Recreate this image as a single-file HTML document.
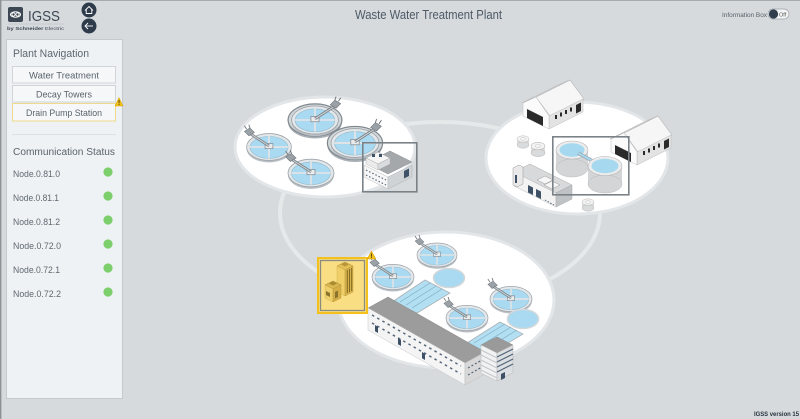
<!DOCTYPE html>
<html><head><meta charset="utf-8"><style>
html,body{margin:0;padding:0;background:#d6dadd;width:800px;height:419px;overflow:hidden}
svg{display:block}
text{font-family:"Liberation Sans",sans-serif}
</style></head><body>
<svg width="800" height="419" viewBox="0 0 800 419" xmlns="http://www.w3.org/2000/svg">
<defs>
 <g id="clar">
   <ellipse cx="0" cy="1.8" rx="20" ry="12" fill="#b9bfc4"/>
   <ellipse cx="0" cy="0" rx="20" ry="12" fill="#e4e7e9" stroke="#9da4aa" stroke-width="0.7"/>
   <ellipse cx="0" cy="0.3" rx="17" ry="9.8" fill="#a9daf1" stroke="#8fb8cc" stroke-width="0.5"/>
   <line x1="-17" y1="0" x2="17" y2="0" stroke="#dfe3e6" stroke-width="1.6"/>
   <line x1="0" y1="-9.8" x2="0" y2="10" stroke="#dfe3e6" stroke-width="1.6"/>
   <rect x="-3.5" y="-3" width="7" height="4.5" fill="#e9ebec" stroke="#7d858b" stroke-width="0.6"/>
   <line x1="0" y1="-1" x2="-17" y2="-12" stroke="#7c8388" stroke-width="2.4"/>
   <line x1="0" y1="-1" x2="-17" y2="-12" stroke="#d5d9dc" stroke-width="0.8"/>
   <polygon points="-22,-14 -17,-17 -13,-13 -18,-10" fill="#9ba2a7" stroke="#6c7378" stroke-width="0.5"/>
   <line x1="-20" y1="-16" x2="-22" y2="-19" stroke="#6c7378" stroke-width="0.8"/>
   <line x1="-17" y1="-17" x2="-18" y2="-20" stroke="#6c7378" stroke-width="0.8"/>
 </g>
 <g id="clar2">
   <ellipse cx="0" cy="2" rx="23" ry="13.8" fill="#a9b0b5"/>
   <ellipse cx="0" cy="0" rx="23" ry="13.8" fill="#d3d8db" stroke="#7f878d" stroke-width="1"/>
   <use href="#clar"/>
 </g>
 <g id="barn">
   <polygon points="15,16 49,-1 63,18 29,35" fill="#f6f6f6" stroke="#b5b5b5" stroke-width="0.6"/>
   <polygon points="1,22 15,16 49,-1 35,5" fill="#e6e6e6" stroke="#b5b5b5" stroke-width="0.6"/>
   <polygon points="28,35 62,18 62,31 28,48" fill="#e3e3e3" stroke="#bdbdbd" stroke-width="0.5"/>
   <polygon points="2,22 15,16 28,35 28,48 2,35" fill="#fbfbfb" stroke="#bdbdbd" stroke-width="0.5"/>
   <polygon points="6,28 22,36 22,45 6,37" fill="#2a2a2a"/>
   <rect x="34" y="34" width="2" height="4" fill="#2a2a2a"/>
   <rect x="39" y="31.5" width="2" height="4" fill="#2a2a2a"/>
   <rect x="44" y="29" width="2" height="4" fill="#2a2a2a"/>
   <rect x="49" y="26.5" width="2" height="4" fill="#2a2a2a"/>
   <polygon points="55,24 60,21.5 60,30 55,32.5" fill="#2a2a2a"/>
 </g>
 <g id="tank">
   <rect x="-6" y="0" width="12" height="6" fill="#d9dbdc"/>
   <ellipse cx="0" cy="6" rx="6" ry="3.2" fill="#d9dbdc" stroke="#bdbdbd" stroke-width="0.5"/>
   <ellipse cx="0" cy="0" rx="6" ry="3.2" fill="#f3f3f3" stroke="#b9b9b9" stroke-width="0.5"/>
   <ellipse cx="0" cy="0" rx="2.5" ry="1.3" fill="none" stroke="#c5c5c5" stroke-width="0.5"/>
 </g>
</defs>

<!-- page borders -->
<rect x="0" y="0" width="800" height="419" fill="#d6dadd"/>
<line x1="0" y1="0.5" x2="800" y2="0.5" stroke="#a6abb0" stroke-width="1"/>
<line x1="0.7" y1="0" x2="0.7" y2="419" stroke="#8c9196" stroke-width="1.4"/>

<!-- logo -->
<rect x="8" y="7" width="15" height="15" rx="2" fill="#3c4753"/>
<ellipse cx="15.5" cy="14.5" rx="5" ry="2.8" fill="none" stroke="#fff" stroke-width="1"/>
<circle cx="13.5" cy="14.5" r="1.6" fill="none" stroke="#fff" stroke-width="0.8"/>
<circle cx="17.5" cy="14.5" r="1.6" fill="none" stroke="#fff" stroke-width="0.8"/>
<text x="28" y="21" font-size="15" fill="#3c4652" textLength="32" lengthAdjust="spacingAndGlyphs">IGSS</text>
<line x1="8" y1="24" x2="65" y2="24" stroke="#b8bcc0" stroke-width="0.6"/>
<text x="7" y="30" font-size="4.8" fill="#3c4652" textLength="57" lengthAdjust="spacingAndGlyphs"><tspan font-weight="bold">by Schneider</tspan> Electric</text>

<!-- home/back -->
<circle cx="89" cy="10" r="7.5" fill="#2e3b4b"/>
<polyline points="85,10.5 89,6.5 93,10.5" fill="none" stroke="#fff" stroke-width="0.9"/>
<polyline points="86.2,9.5 86.2,13.5 91.8,13.5 91.8,9.5" fill="none" stroke="#fff" stroke-width="0.9"/>
<circle cx="89" cy="26" r="7.5" fill="#2e3b4b"/>
<line x1="85" y1="26" x2="93" y2="26" stroke="#fff" stroke-width="0.9"/>
<polyline points="88,23 85,26 88,29" fill="none" stroke="#fff" stroke-width="0.9"/>

<!-- title -->
<text x="355" y="19" font-size="12.5" fill="#4d5965" textLength="147" lengthAdjust="spacingAndGlyphs">Waste Water Treatment Plant</text>

<!-- info toggle -->
<text x="722" y="17" font-size="6.5" fill="#56606a" textLength="45" lengthAdjust="spacingAndGlyphs">Information Box</text>
<rect x="768" y="9" width="21" height="10" rx="5" fill="#f2f4f5" stroke="#9aa1a7" stroke-width="0.7"/>
<circle cx="773.5" cy="14" r="4.6" fill="#2f3d4d"/>
<text x="779" y="16.3" font-size="5.5" fill="#555">Off</text>

<!-- version -->
<text x="754" y="416" font-size="6.3" font-weight="bold" fill="#27323d" textLength="45" lengthAdjust="spacingAndGlyphs">IGSS version 15</text>

<!-- sidebar -->
<rect x="6.5" y="39.5" width="116" height="359" fill="#eff2f5" stroke="#c5cacf" stroke-width="1"/>
<text x="13" y="57" font-size="11" fill="#5d6770" textLength="76" lengthAdjust="spacingAndGlyphs">Plant Navigation</text>
<rect x="12.5" y="66.5" width="103" height="16.5" fill="#f5f7f9" stroke="#d1d5d9" stroke-width="1"/>
<text x="64" y="78.5" font-size="9.5" fill="#5a636b" text-anchor="middle" textLength="70" lengthAdjust="spacingAndGlyphs">Water Treatment</text>
<rect x="12.5" y="85.5" width="103" height="16.5" fill="#f5f7f9" stroke="#d1d5d9" stroke-width="1"/>
<text x="64" y="97.5" font-size="9.5" fill="#5a636b" text-anchor="middle" textLength="56" lengthAdjust="spacingAndGlyphs">Decay Towers</text>
<rect x="12.5" y="103.5" width="103" height="17.5" fill="#f5f7f9" stroke="#efd98a" stroke-width="1"/>
<text x="64" y="116" font-size="9.5" fill="#5a636b" text-anchor="middle" textLength="76" lengthAdjust="spacingAndGlyphs">Drain Pump Station</text>
<polygon points="115,106 119,97.5 123,106" fill="#f2c01e" stroke="#d6a000" stroke-width="0.5"/>
<rect x="118.6" y="100" width="0.9" height="3.3" fill="#4a3a00"/>
<rect x="118.6" y="104" width="0.9" height="0.9" fill="#4a3a00"/>
<line x1="12" y1="134.5" x2="116" y2="134.5" stroke="#dde1e4" stroke-width="1"/>
<text x="13" y="155" font-size="10" fill="#5a636b" textLength="102" lengthAdjust="spacingAndGlyphs">Communication Status</text>
<g font-size="9" fill="#5f6870">
<text x="13" y="177" textLength="47" lengthAdjust="spacingAndGlyphs">Node.0.81.0</text>
<text x="13" y="201" textLength="46" lengthAdjust="spacingAndGlyphs">Node.0.81.1</text>
<text x="13" y="225" textLength="47" lengthAdjust="spacingAndGlyphs">Node.0.81.2</text>
<text x="13" y="249" textLength="48" lengthAdjust="spacingAndGlyphs">Node.0.72.0</text>
<text x="13" y="273" textLength="47" lengthAdjust="spacingAndGlyphs">Node.0.72.1</text>
<text x="13" y="297" textLength="48" lengthAdjust="spacingAndGlyphs">Node.0.72.2</text>
</g>
<g fill="#7dcf6e">
<circle cx="108" cy="172" r="4.6"/>
<circle cx="108" cy="196" r="4.6"/>
<circle cx="108" cy="220" r="4.6"/>
<circle cx="108" cy="244" r="4.6"/>
<circle cx="108" cy="268" r="4.6"/>
<circle cx="108" cy="292" r="4.6"/>
</g>

<!-- ring -->
<ellipse cx="440" cy="213" rx="160" ry="91" fill="none" stroke="#e6e9ea" stroke-width="4"/>

<!-- ellipses -->
<ellipse cx="325" cy="147" rx="90" ry="50" fill="#fff" stroke="#e3e6e8" stroke-width="3"/>
<ellipse cx="577" cy="158" rx="91" ry="56" fill="#fff" stroke="#e3e6e8" stroke-width="3"/>
<ellipse cx="446" cy="300" rx="108" ry="68" fill="#fff" stroke="#e3e6e8" stroke-width="3"/>

<!-- top-left plant -->
<use href="#clar2" transform="translate(315,120) scale(-1.17,1.17)"/>
<use href="#clar" transform="translate(269,147) scale(1.12)"/>
<use href="#clar2" transform="translate(355,143) scale(-1.2,1.2)"/>
<use href="#clar" transform="translate(311,173) scale(1.15)"/>
<!-- building in frame -->
<polygon points="366,163 390,151 412,162 388,174" fill="#a5a8ab" stroke="#8d9194" stroke-width="0.5"/>
<polygon points="364,165 388,177 388,189 364,177" fill="#f7f7f7" stroke="#bbb" stroke-width="0.5"/>
<polygon points="388,177 412,165 412,177 388,189" fill="#d0d3d6" stroke="#b0b3b6" stroke-width="0.5"/>
<polygon points="366,158 378,152 390,158 378,164" fill="#f5f5f5" stroke="#999" stroke-width="0.5"/>
<polygon points="366,158 378,164 378,170 366,164" fill="#ececec" stroke="#aaa" stroke-width="0.4"/>
<polygon points="378,164 390,158 390,164 378,170" fill="#d9dcde" stroke="#aaa" stroke-width="0.4"/>
<rect x="372" y="154" width="3" height="3" fill="#3f5168"/>
<rect x="379" y="154" width="3" height="3" fill="#3f5168"/>
<line x1="366" y1="170" x2="386" y2="180" stroke="#5b6b7b" stroke-width="1.2" stroke-dasharray="1.5 2"/>
<line x1="366" y1="175" x2="386" y2="185" stroke="#5b6b7b" stroke-width="1.2" stroke-dasharray="1.5 2"/>
<polygon points="404,171 409,168.5 409,176 404,178.5" fill="#3f5168"/>
<rect x="362.8" y="142.8" width="54" height="49" fill="none" stroke="#7a8288" stroke-width="1.6"/>

<!-- top-right plant -->
<use href="#barn" transform="translate(521,81)"/>
<use href="#barn" transform="translate(609,117)"/>
<use href="#tank" transform="translate(523,139)"/>
<use href="#tank" transform="translate(538,146) scale(1.15)"/>
<use href="#tank" transform="translate(588,202)"/>
<!-- big tanks -->
<rect x="556" y="150" width="32" height="18" fill="#d3d5d7"/>
<ellipse cx="572" cy="168" rx="16" ry="9" fill="#d3d5d7" stroke="#bbb" stroke-width="0.5"/>
<ellipse cx="572" cy="150" rx="16" ry="9" fill="#ececec" stroke="#b5b5b5" stroke-width="0.6"/>
<ellipse cx="572" cy="150" rx="12.5" ry="6.8" fill="#a6d9f0"/>
<line x1="578" y1="153" x2="600" y2="165" stroke="#9aa2a8" stroke-width="3.5"/>
<line x1="578" y1="153" x2="600" y2="165" stroke="#a6d9f0" stroke-width="2"/>
<rect x="588" y="166" width="34" height="18" fill="#d3d5d7"/>
<ellipse cx="605" cy="184" rx="17" ry="9" fill="#d3d5d7" stroke="#bbb" stroke-width="0.5"/>
<ellipse cx="605" cy="166" rx="17" ry="9.5" fill="#ececec" stroke="#b5b5b5" stroke-width="0.6"/>
<ellipse cx="605" cy="166" rx="13.5" ry="7.2" fill="#a6d9f0"/>
<!-- machinery building -->
<polygon points="514,172 530,164 572,185 556,193" fill="#d8d9da" stroke="#aaa" stroke-width="0.5"/>
<polygon points="514,172 556,193 556,207 514,186" fill="#f3f3f3" stroke="#bbb" stroke-width="0.5"/>
<polygon points="556,193 572,185 572,199 556,207" fill="#bfc3c6" stroke="#aaa" stroke-width="0.5"/>
<polygon points="513,168 519,165 523,167 523,184 517,187 513,185" fill="#e9e9e9" stroke="#999" stroke-width="0.5"/>
<rect x="515" y="175" width="2" height="8" fill="#3e5066"/>
<polygon points="537,180 545,176 553,180 545,184" fill="#f6f6f6" stroke="#999" stroke-width="0.5"/>
<polygon points="544,185 552,181 560,185 552,189" fill="#f6f6f6" stroke="#999" stroke-width="0.5"/>
<polygon points="528,185 533,187.5 533,195 528,192.5" fill="#3e5066"/>
<polygon points="536,189 541,191.5 541,199 536,196.5" fill="#3e5066"/>
<line x1="545" y1="200" x2="554" y2="205" stroke="#5b6b7b" stroke-width="1" stroke-dasharray="1.5 1.5"/>
<rect x="552.8" y="136.8" width="76" height="58" fill="none" stroke="#7a8288" stroke-width="1.6"/>

<!-- bottom plant -->
<use href="#clar" transform="translate(437,255)"/>
<use href="#clar" transform="translate(393,277) scale(1.05)"/>
<ellipse cx="449" cy="278" rx="15.5" ry="9.5" fill="#a9daf1" stroke="#d3d7da" stroke-width="1.5"/>
<use href="#clar" transform="translate(511,299) scale(1.05)"/>
<use href="#clar" transform="translate(467,318) scale(1.05)"/>
<ellipse cx="523" cy="319" rx="15.5" ry="9.5" fill="#a9daf1" stroke="#d3d7da" stroke-width="1.5"/>
<!-- channels -->
<polygon points="392,302 425,280 450,293 417,313" fill="#b3dff3" stroke="#aab1b6" stroke-width="0.8"/>
<line x1="400" y1="302" x2="430" y2="283" stroke="#7fa9c0" stroke-width="0.6"/>
<line x1="406" y1="305" x2="436" y2="286" stroke="#7fa9c0" stroke-width="0.6"/>
<line x1="412" y1="308" x2="442" y2="289" stroke="#7fa9c0" stroke-width="0.6"/>
<polygon points="467,343 500,322 523,334 490,354" fill="#b3dff3" stroke="#aab1b6" stroke-width="0.8"/>
<line x1="474" y1="343" x2="505" y2="324" stroke="#7fa9c0" stroke-width="0.6"/>
<line x1="480" y1="346" x2="511" y2="327" stroke="#7fa9c0" stroke-width="0.6"/>
<line x1="486" y1="349" x2="517" y2="330" stroke="#7fa9c0" stroke-width="0.6"/>
<!-- long building -->
<polygon points="368,308 388,297 485,352 465,363" fill="#9c9c9c" stroke="#8a8a8a" stroke-width="0.5"/>
<polygon points="368,308 465,363 465,385 368,330" fill="#f4f4f4" stroke="#c6c6c6" stroke-width="0.5"/>
<polygon points="465,363 485,352 485,374 465,385" fill="#d8d8d8" stroke="#bcbcbc" stroke-width="0.5"/>
<line x1="372" y1="315" x2="461" y2="366" stroke="#56687a" stroke-width="1.5" stroke-dasharray="2.5 3.5"/>
<line x1="372" y1="323" x2="461" y2="374" stroke="#56687a" stroke-width="1.5" stroke-dasharray="2.5 3.5"/>
<polygon points="375,325 378,326.7 378,333 375,331.3" fill="#3e5066"/>
<polygon points="398,338 401,339.7 401,346 398,344.3" fill="#3e5066"/>
<polygon points="422,352 425,353.7 425,360 422,358.3" fill="#3e5066"/>
<line x1="468" y1="368" x2="482" y2="360" stroke="#56687a" stroke-width="1.2" stroke-dasharray="2 2"/>
<line x1="468" y1="375" x2="482" y2="367" stroke="#56687a" stroke-width="1.2" stroke-dasharray="2 2"/>
<!-- tower -->
<polygon points="481,345 497,337 513,345 497,353" fill="#9a9a9a" stroke="#888" stroke-width="0.5"/>
<polygon points="481,345 497,353 497,381 481,373" fill="#f2f2f2" stroke="#bbb" stroke-width="0.5"/>
<polygon points="497,353 513,345 513,373 497,381" fill="#dcdfe2" stroke="#b5b5b5" stroke-width="0.5"/>
<g stroke="#c3c8cd" stroke-width="1">
<line x1="481" y1="350" x2="497" y2="358"/><line x1="481" y1="355" x2="497" y2="363"/><line x1="481" y1="360" x2="497" y2="368"/><line x1="481" y1="365" x2="497" y2="373"/><line x1="481" y1="370" x2="497" y2="378"/>
</g>
<g stroke="#4f6276" stroke-width="1.2">
<line x1="497" y1="357" x2="513" y2="349"/><line x1="497" y1="362" x2="513" y2="354"/><line x1="497" y1="367" x2="513" y2="359"/><line x1="497" y1="372" x2="513" y2="364"/>
</g>
<polygon points="501,374 505,372 505,378 501,380" fill="#3e5066"/>

<!-- yellow selected box -->
<rect x="318" y="258" width="49" height="55" fill="#f9de84" stroke="#f4c01c" stroke-width="2"/>
<rect x="320.5" y="260.5" width="44" height="50" fill="none" stroke="#8a8a80" stroke-width="1.3"/>
<polygon points="337,266 345,262 353,266 345,270" fill="#e2c056" stroke="#a88a30" stroke-width="0.5"/>
<polygon points="337,266 345,270 345,296 337,292" fill="#f0cf68" stroke="#c9a845" stroke-width="0.4"/>
<polygon points="345,270 353,266 353,292 345,296" fill="#d7b24a" stroke="#b8953a" stroke-width="0.4"/>
<g stroke="#7a6320" stroke-width="0.9">
<line x1="347.3" y1="270" x2="347.3" y2="293"/><line x1="349.5" y1="269" x2="349.5" y2="292"/><line x1="351.7" y1="268" x2="351.7" y2="291"/>
</g>
<polygon points="341,264.5 345,262.5 349,264.5 345,266.5" fill="#b8953a"/>
<polygon points="325,285 333,281 341,285 333,289" fill="#d9b650" stroke="#a0832c" stroke-width="0.5"/>
<polygon points="325,285 333,289 333,302 325,298" fill="#eed06a" stroke="#c9a845" stroke-width="0.4"/>
<polygon points="333,289 341,285 341,298 333,302" fill="#d5ae48" stroke="#b8953a" stroke-width="0.4"/>
<polygon points="329,283.5 333,281.5 337,283.5 333,285.5" fill="#a88a30"/>
<polygon points="326,291 330,293 330,297 326,295" fill="#8a7330"/>
<polygon points="335,292 338,290.5 338,297 335,298.5" fill="#8a7330"/>
<polygon points="367,259 371.5,251 376,259" fill="#f2c01e" stroke="#d6a000" stroke-width="0.5"/>
<rect x="371" y="253.5" width="0.9" height="3.2" fill="#4a3a00"/>
<rect x="371" y="257.2" width="0.9" height="0.9" fill="#4a3a00"/>
</svg>
</body></html>
